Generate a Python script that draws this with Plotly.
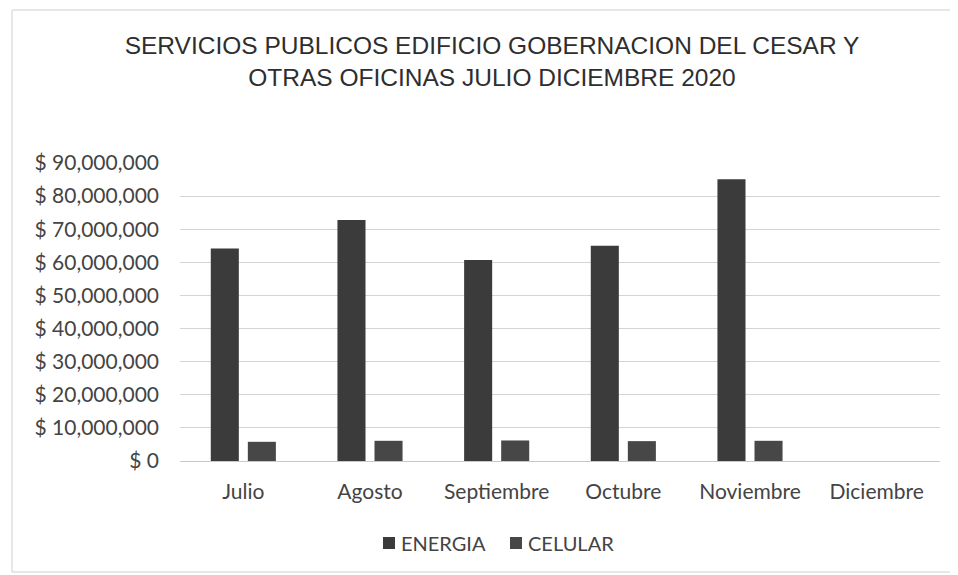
import plotly.graph_objects as go

months = ["Julio", "Agosto", "Septiembre", "Octubre", "Noviembre", "Diciembre"]
energia = [64200000, 72800000, 60700000, 65000000, 85100000, None]
celular = [5800000, 6100000, 6200000, 6000000, 6100000, None]
y_ticks = [0, 10000000, 20000000, 30000000, 40000000, 50000000, 60000000, 70000000, 80000000, 90000000]
y_tick_labels = ["$ 0", "$ 10,000,000", "$ 20,000,000", "$ 30,000,000", "$ 40,000,000",
                 "$ 50,000,000", "$ 60,000,000", "$ 70,000,000", "$ 80,000,000", "$ 90,000,000"]
series_names = ["ENERGIA", "CELULAR"]
series_colors = ["#3b3b3b", "#474747"]

# page is offset by 8px body margin
OFF = 8
W, H = 950, 567
ml, mr, mt, mb = 172, 18, 155, 114
pw, ph = W - ml - mr, H - mt - mb

def px(page_x):
    return (page_x - OFF - ml) / pw

def py(page_y):
    return (H - mb - (page_y - OFF)) / ph

fig = go.Figure()
fig.add_trace(go.Bar(name=series_names[0], x=months, y=energia,
                     marker=dict(color=series_colors[0], line=dict(width=0))))
fig.add_trace(go.Bar(name=series_names[1], x=months, y=celular,
                     marker=dict(color=series_colors[1], line=dict(width=0))))

fig.update_layout(
    width=W, height=H,
    margin=dict(l=ml, r=mr, t=mt, b=mb),
    paper_bgcolor="white", plot_bgcolor="white",
    barmode="group", bargap=0.415, bargroupgap=0.243,
    showlegend=False,
    title=dict(
        text="SERVICIOS PUBLICOS EDIFICIO GOBERNACION DEL CESAR Y<br>OTRAS OFICINAS JULIO DICIEMBRE 2020",
        x=(492 - OFF) / W, xref="container", xanchor="center",
        y=1 - (54 - OFF) / H, yref="container", yanchor="middle",
        font=dict(family="Liberation Sans", size=24.5, color="#2e2e2e"),
    ),
    font=dict(family="Lato", color="#444444"),
    xaxis=dict(
        tickfont=dict(family="Lato", size=21, color="#444444"),
        showgrid=False, showline=True, linecolor="#c8c8c8", linewidth=1, ticks="",
        ticklabelstandoff=12,
    ),
    yaxis=dict(
        range=[0, 90000000], tickvals=y_ticks, ticktext=y_tick_labels,
        tickfont=dict(family="Lato", size=21, color="#444444"),
        showgrid=True, gridcolor="#d4d4d4", gridwidth=1, zeroline=False,
        showline=False, ticks="", ticklabelstandoff=20,
    ),
)

# legend drawn as squares + text (Excel style, tight spacing)
legend_items = [(383, series_names[0], series_colors[0]), (510, series_names[1], series_colors[1])]
for x0, name, col in legend_items:
    fig.add_shape(type="rect", xref="paper", yref="paper",
                  x0=px(x0), x1=px(x0 + 12), y0=py(549), y1=py(537),
                  line=dict(width=0), fillcolor=col)
    fig.add_annotation(xref="paper", yref="paper", x=px(x0 + 16), y=py(543),
                       xanchor="left", yanchor="middle", showarrow=False,
                       text=name, font=dict(family="Lato", size=20, color="#444444"))

# chart frame
fig.add_shape(type="rect", xref="paper", yref="paper",
              x0=px(12), x1=px(955), y0=py(572), y1=py(10),
              line=dict(color="#cfcfcf", width=1), fillcolor="rgba(0,0,0,0)", layer="below")

fig.write_html("out.html")
